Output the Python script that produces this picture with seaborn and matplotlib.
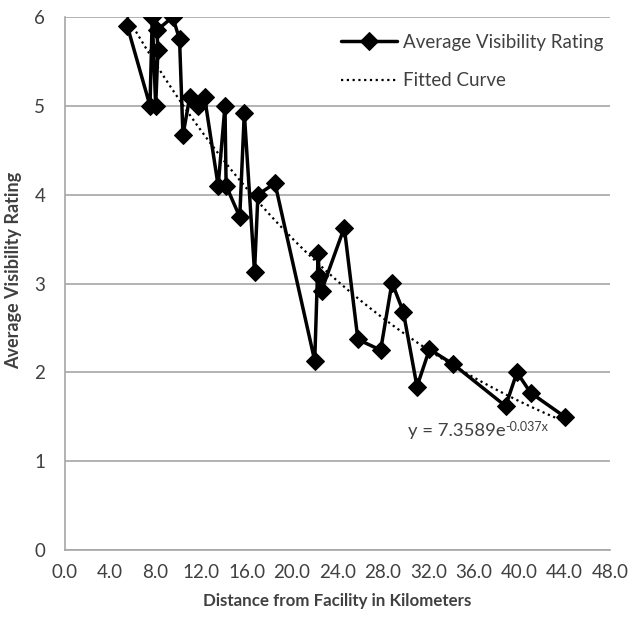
import numpy as np
import pandas as pd
import matplotlib
matplotlib.use("Agg")
import matplotlib.pyplot as plt
import seaborn as sns

# values
distance_km = [5.5, 7.5, 7.7, 8.0, 8.2, 8.1, 9.5, 10.1, 10.4, 11.0, 11.7, 12.3,
               13.5, 14.1, 14.2, 15.4, 15.8, 16.7, 17.0, 18.5, 22.0, 22.3,
               22.4, 22.6, 24.6, 25.8, 27.8, 28.8, 29.8, 31.0, 32.1, 34.2,
               38.8, 39.8, 41.0, 44.0]
avg_rating = [5.9, 5.0, 6.0, 5.0, 5.63, 5.85, 6.0, 5.75, 4.67, 5.1, 5.0, 5.1,
              4.1, 5.0, 4.1, 3.75, 4.92, 3.13, 4.0, 4.13, 2.13, 3.34,
              3.08, 2.92, 3.63, 2.37, 2.25, 3.01, 2.68, 1.84, 2.26, 2.09,
              1.62, 2.0, 1.77, 1.5]
x_ticks = [0, 4, 8, 12, 16, 20, 24, 28, 32, 36, 40, 44, 48]
y_ticks = [0, 1, 2, 3, 4, 5, 6]

# exponential trendline shown on the chart
fit_a = 7.3589
fit_b = -0.037

df = pd.DataFrame({"dist": distance_km, "rating": avg_rating})
fit_x = np.linspace(min(distance_km), max(distance_km), 200)
fit_df = pd.DataFrame({"dist": fit_x, "rating": fit_a * np.exp(fit_b * fit_x)})

sns.set_style("white")
plt.rcParams["font.family"] = ["Lato", "DejaVu Sans"]

txt = "#404040"
fig = plt.figure(figsize=(6.29, 6.19), dpi=100)
ax = fig.add_axes([0.103, 0.1115, 0.867, 0.861])

sns.lineplot(data=df, x="dist", y="rating", sort=False, color="black",
             linewidth=2.5, marker="D", markersize=9, markeredgecolor="black",
             label="Average Visibility Rating", ax=ax, zorder=3)
sns.lineplot(data=fit_df, x="dist", y="rating", color="black", linewidth=1.6,
             linestyle=(0, (1, 1.6)), label="Fitted Curve", ax=ax, zorder=2)

ax.set_xlim(0, 48)
ax.set_ylim(0, 6)
ax.set_xticks(x_ticks)
ax.set_xticklabels([f"{v:.1f}" for v in x_ticks])
ax.set_yticks(y_ticks)
ax.yaxis.grid(True, color="#a6a6a6", linewidth=1.2)
ax.set_axisbelow(True)
for s in ["top", "right"]:
    ax.spines[s].set_visible(False)
for s in ["left", "bottom"]:
    ax.spines[s].set_color("#a6a6a6")
    ax.spines[s].set_linewidth(1.2)
ax.tick_params(axis="both", colors="#a6a6a6", labelcolor=txt, labelsize=13.5,
               length=5, width=1.2, direction="out")
ax.tick_params(axis="x", pad=5)
ax.tick_params(axis="y", pad=9)

ax.set_xlabel("Distance from Facility in Kilometers", fontsize=12.2,
              fontweight="bold", color=txt, labelpad=9)
ax.set_ylabel("Average Visibility Rating", fontsize=13,
              fontweight="bold", color=txt)
ax.yaxis.set_label_coords(-0.079, 0.525)

# trendline equation, exponent as a small raised label
eq = ax.text(30.2, 1.28, "y = 7.3589e", fontsize=13.3, color=txt)
ax.annotate("-0.037x", xy=(1.0, 0.78), xycoords=eq, ha="left", va="center",
            fontsize=9, color=txt)

leg = ax.legend(loc="upper left", bbox_to_anchor=(0.475, 1.0), frameon=False,
                fontsize=13.5, handlelength=3.0, labelspacing=1.15,
                handletextpad=0.3)
for t in leg.get_texts():
    t.set_color(txt)

fig.savefig("out.png", dpi=100)
